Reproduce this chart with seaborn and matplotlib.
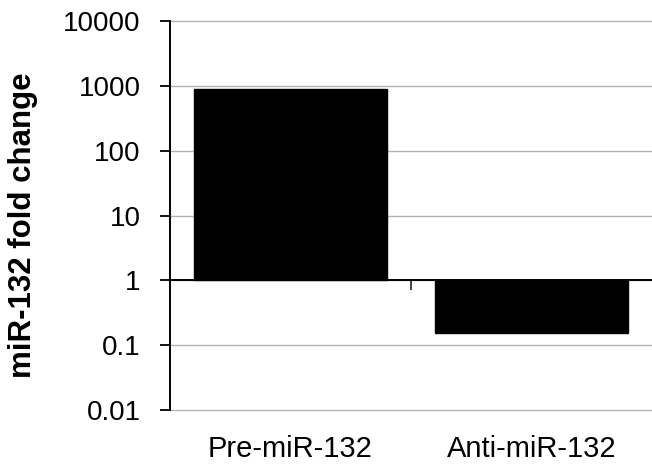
import matplotlib
matplotlib.use("Agg")
import matplotlib.pyplot as plt
import seaborn as sns
import pandas as pd

categories = ["Pre-miR-132", "Anti-miR-132"]
fold_change = [880, 0.153]
y_ticks = [0.01, 0.1, 1, 10, 100, 1000, 10000]
y_tick_labels = ["0.01", "0.1", "1", "10", "100", "1000", "10000"]
baseline = 1

sns.set_theme(style="white")
plt.rcParams["font.family"] = ["Liberation Sans", "DejaVu Sans"]
plt.rcParams["text.color"] = "black"
plt.rcParams["axes.labelcolor"] = "black"
plt.rcParams["xtick.color"] = "black"
plt.rcParams["ytick.color"] = "black"

df = pd.DataFrame({"group": categories, "fold": fold_change})

fig = plt.figure(figsize=(6.52, 4.71), dpi=100)
ax = fig.add_axes([0.2607, 0.1295, 0.7393, 0.8259])

sns.barplot(data=df, x="group", y="fold", color="black", width=0.8,
            saturation=1, ax=ax, zorder=3)
ax.set_yscale("log")
for patch, v in zip(ax.patches, fold_change):
    patch.set_y(baseline)
    patch.set_height(v - baseline)
    patch.set_facecolor("black")
    patch.set_edgecolor("black")

ax.set_ylim(y_ticks[0], y_ticks[-1])
ax.set_xlim(-0.5, 1.5)
ax.set_yticks(y_ticks)
ax.set_yticklabels(y_tick_labels)
ax.minorticks_off()
ax.yaxis.grid(True, color="#b3b3b3", linewidth=1.0, zorder=0)
ax.xaxis.grid(False)
for gl in ax.get_ygridlines():
    gl.set_clip_on(False)

for s in ["top", "right", "bottom"]:
    ax.spines[s].set_visible(False)
ax.spines["left"].set_color("black")
ax.spines["left"].set_linewidth(1.4)
ax.spines["left"].set_zorder(5)

ax.tick_params(axis="y", direction="out", length=7, width=1.3, color="black",
               labelsize=20, pad=14, left=True, labelcolor="black")
ax.tick_params(axis="x", length=0, labelsize=21, pad=18, labelcolor="black")
ax.set_xlabel("")
ax.set_ylabel("miR-132 fold change", fontsize=22.5, fontweight="bold",
              color="black")
ax.yaxis.set_label_coords(-0.273, 0.475)

# baseline axis at y = 1 with separator tick
sec = ax.secondary_xaxis(1 / 3)
sec.set_xticks([0.5])
sec.tick_params(direction="out", length=7, width=1.3, color="#333333",
                labelbottom=False, labeltop=False)
for s in sec.spines.values():
    s.set_visible(False)
sec.spines["bottom"].set_visible(True)
sec.spines["bottom"].set_color("black")
sec.spines["bottom"].set_linewidth(1.4)
sec.set_zorder(6)

fig.savefig("out.png", dpi=100)
